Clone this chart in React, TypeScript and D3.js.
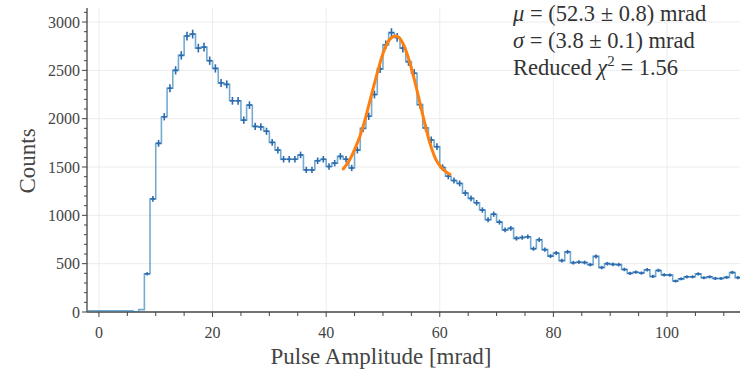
import React from "react";
import * as d3 from "d3";

// Histogram: bins of width 1 mrad starting at binStart
const binStart = -2;
const counts: number[] = [
  0, 0, 0, 0, 0, 0, 0, 0, 3, 25,
  395, 1170, 1745, 2020, 2315, 2500, 2655, 2855, 2875, 2730,
  2740, 2600, 2520, 2370, 2355, 2185, 2185, 1985, 2140, 1920,
  1915, 1870, 1755, 1675, 1580, 1580, 1580, 1625, 1470, 1470,
  1565, 1580, 1505, 1540, 1610, 1580, 1490, 1675, 1900, 2025,
  2250, 2515, 2765, 2890, 2840, 2730, 2590, 2470, 2145, 1905,
  1780, 1710, 1495, 1405, 1360, 1330, 1230, 1175, 1130, 1055,
  955, 1012, 930, 850, 865, 762, 770, 778, 655, 748,
  645, 578, 610, 532, 622, 510, 515, 512, 490, 575,
  460, 500, 493, 490, 440, 400, 412, 403, 437, 368,
  430, 384, 382, 320, 343, 364, 364, 394, 355, 364,
  347, 347, 358, 409, 356,
];

// Fit curve points
const fitX: number[] = [43.0, 44.1, 45.0, 45.9, 46.8, 47.6, 48.8, 50.0, 51.1, 52.3, 53.5, 54.6, 55.8, 57.0, 58.2, 59.3, 60.2, 61.1, 61.8];
const fitY: number[] = [1480, 1570, 1680, 1810, 1980, 2160, 2430, 2675, 2815, 2855, 2780, 2605, 2340, 2040, 1760, 1580, 1500, 1450, 1425];

const xTicks: number[] = [0, 20, 40, 60, 80, 100];
const yTicks: number[] = [0, 500, 1000, 1500, 2000, 2500, 3000];

const W = 740;
const H = 372;
const L = 87;
const R = 740;
const T = 8;
const B = 312;

const serif = "'Liberation Serif', 'Times New Roman', Times, serif";

export default function App() {
  const x = d3.scaleLinear().domain([-2.1, 112.85]).range([L, R]);
  const y = d3.scaleLinear().domain([0, 3145]).range([B, T]);

  const stepPts: [number, number][] = counts.map((c, i) => [binStart + i, c]);
  stepPts.push([binStart + counts.length, counts[counts.length - 1]]);
  const stepLine = d3
    .line<[number, number]>()
    .x((d) => x(d[0]))
    .y((d) => y(d[1]) - (d[1] === 0 ? 1.2 : 0))
    .curve(d3.curveStepAfter);

  const fitLine = d3
    .line<number>()
    .x((_, i) => x(fitX[i]))
    .y((d) => y(d))
    .curve(d3.curveMonotoneX);

  const xMinor = d3.range(0, 113, 5);
  const yMinor = d3.range(0, 3101, 100);

  return (
    <svg
      width={W}
      height={H}
      style={{ position: "absolute", left: 0, top: 0, background: "#fff" }}
      fontFamily={serif}
    >
      <defs>
        <clipPath id="plot">
          <rect x={L + 1} y={T - 2} width={R - L} height={B - T + 2} />
        </clipPath>
      </defs>
      {/* grid */}
      {xTicks.map((t) => (
        <line key={"gx" + t} x1={x(t)} x2={x(t)} y1={T} y2={B} stroke="#ececec" strokeWidth={1} />
      ))}
      {yTicks.filter((t) => t > 0).map((t) => (
        <line key={"gy" + t} x1={L} x2={R} y1={y(t)} y2={y(t)} stroke="#ececec" strokeWidth={1} />
      ))}

      {/* axes */}
      <line x1={L} x2={L} y1={T} y2={B} stroke="#444" strokeWidth={1.3} />
      <line x1={L} x2={R} y1={B} y2={B} stroke="#444" strokeWidth={1.3} />
      {yMinor.map((t) => (
        <line key={"ym" + t} x1={L} x2={L - (t % 500 === 0 ? 5 : 3)} y1={y(t)} y2={y(t)} stroke="#444" strokeWidth={1} />
      ))}
      {xMinor.map((t) => (
        <line key={"xm" + t} x1={x(t)} x2={x(t)} y1={B} y2={B + (t % 20 === 0 ? 5 : 4)} stroke="#444" strokeWidth={1} />
      ))}

      <g clipPath="url(#plot)">
        <path d={stepLine(stepPts) || ""} fill="none" stroke="#1f77b4" strokeOpacity={0.62} strokeWidth={1.6} />
        {counts.map((c, i) => {
          if (c < 50) return null;
          const cx = x(binStart + i + 0.5);
          const e = Math.sqrt(c) * 0.85;
          const y1 = y(c - e);
          const y2 = y(c + e);
          const yc = y(c);
          return (
            <g key={"e" + i} stroke="#2c6aad" strokeWidth={1.6}>
              <line x1={cx} x2={cx} y1={y1} y2={y2} />
              <line x1={cx - 2.5} x2={cx + 2.5} y1={yc} y2={yc} />
            </g>
          );
        })}
        <path d={fitLine(fitY) || ""} fill="none" stroke="#ff7f0e" strokeWidth={3} strokeLinecap="round" />
      </g>

      {yTicks.map((t) => (
        <text key={"yl" + t} x={L - 7} y={y(t)} dy="0.35em" textAnchor="end" fontSize={16} fill="#444">
          {t}
        </text>
      ))}
      {xTicks.map((t) => (
        <text key={"xl" + t} x={x(t)} y={338} textAnchor="middle" fontSize={16} fill="#444">
          {t}
        </text>
      ))}

      {/* axis titles */}
      <text x={381} y={364} textAnchor="middle" fontSize={23} fill="#444">
        Pulse Amplitude [mrad]
      </text>
      <text transform="translate(35,161) rotate(-90)" textAnchor="middle" fontSize={23} fill="#444">
        Counts
      </text>

      {/* annotation */}
      <g fontSize={22.5} fill="#333">
        <text x={513} y={21}>
          <tspan fontStyle="italic">μ</tspan> = (52.3 ± 0.8) mrad
        </text>
        <text x={513} y={48}>
          <tspan fontStyle="italic">σ</tspan> = (3.8 ± 0.1) mrad
        </text>
        <text x={513} y={75}>
          Reduced <tspan fontStyle="italic">χ</tspan>
          <tspan dy={-9} fontSize={15}>2</tspan>
          <tspan dy={9}> = 1.56</tspan>
        </text>
      </g>
    </svg>
  );
}
